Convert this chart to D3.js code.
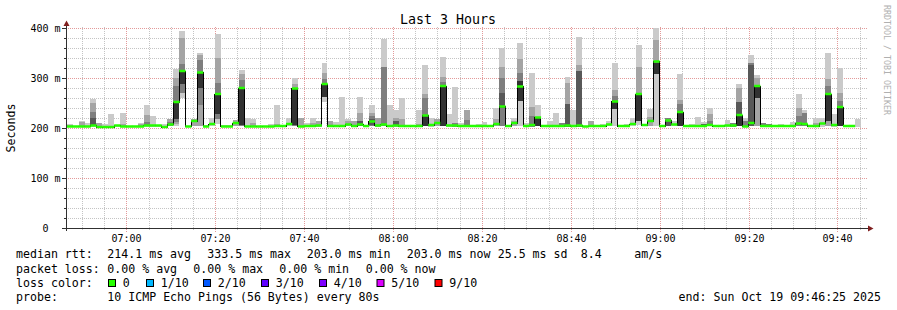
<!DOCTYPE html>
<html><head><meta charset="utf-8">
<script src="https://cdn.jsdelivr.net/npm/d3@7"></script>
<style>
html,body{margin:0;padding:0;background:#fff;}
svg{display:block;}
text{font-family:"DejaVu Sans Mono",monospace;white-space:pre;}
</style></head><body>
<svg id="chart" width="897" height="310"></svg>
<script>
// ---------------- data ----------------
const chartTitle = "Last 3 Hours";
const yAxisTitle = "Seconds";
const sideText = "RRDTOOL / TOBI OETIKER";
const startTime = Date.UTC(2025, 9, 19, 6, 46, 25);
const endTime   = Date.UTC(2025, 9, 19, 9, 46, 25);
const stepSeconds = 80;
const firstColumnOffset = 10; // seconds after startTime
const _ = null;

// median rtt per 80 s step (ms)
const medianRtt = [
  203,203,203,203,205,202,202,202,205,203,203,203,203,205,205,205,202,207,252,314,203,214,311,203,208,268,203,
  203,210,280,203,203,203,203,203,204,204,208,279,203,204,204,205,288,204,204,204,207,204,207,204,213,205,207,
  204,205,204,204,204,204,225,206,210,284,205,205,204,204,204,204,204,204,208,243,204,210,283,204,206,221,204,
  204,204,204,205,204,205,203,204,204,204,207,253,204,204,208,268,206,214,333,204,215,207,232,204,204,204,204,
  206,204,204,205,205,226,203,210,284,204,204,204,204,204,204,209,208,204,204,209,268,206,242,204,204,_
];
// smoke: pairs of pings [low, high] (ms), outermost pair first
const smoke1 = [
  [203,208],[203,205],[203,215],[203,210],[203,258],[202,211],[202,208],[202,228],[203,206],[203,230],[203,205],_,[203,210],[203,246],[203,224],[203,207],[202,208],[204,218],[205,318],[260,395],[203,205],[204,218],[204,350],[203,206],[204,221],[208,388],[203,207],
  [203,207],[204,216],[204,316],[203,220],[203,218],[203,204],[203,204],[203,208],[203,246],[203,205],[204,220],[205,300],[203,220],[203,210],[203,220],[203,215],[253,330],[203,215],[203,212],[203,263],[204,218],[203,215],[204,263],[203,204],[204,246],[203,220],[204,378],
  [203,246],[203,236],[203,260],[203,205],[203,206],[203,236],[204,326],[203,220],[204,218],[204,343],[203,228],[203,283],[203,210],[203,236],[203,204],[203,208],[203,212],[203,206],[204,240],[204,360],[203,204],[204,220],[204,370],[203,210],[203,310],[204,246],[203,204],
  [203,214],[203,231],[203,210],[203,303],[203,236],[203,382],[203,205],[203,215],[203,206],[203,208],[204,214],[204,330],[203,204],[203,208],[204,220],[206,366],[204,206],[204,238],[204,400],[203,205],[204,221],[204,214],[204,308],[203,204],[203,208],[203,223],[203,212],
  [204,240],[203,204],[203,204],[203,216],[203,210],[204,288],[203,220],[204,346],[205,306],[203,210],[203,209],[203,204],[203,208],[203,204],[203,213],[204,268],[204,236],[203,206],[203,220],[203,220],[204,351],[203,228],[204,320],[203,204],[203,206],[203,218]
];
const smoke2 = [
  [203,207],_,[203,213],_,[204,250],[202,210],_,_,_,[203,208],_,_,[203,209],[204,227],_,_,_,[204,218],[208,301],[271,381],_,[204,218],[204,346],_,_,[218,341],_,
  _,[204,216],[205,309],_,[203,211],_,_,_,[203,208],_,_,[205,288],[203,220],_,[203,210],[203,215],[263,311],[203,215],_,_,[204,214],[203,215],[204,230],_,[204,230],[203,220],_,
  _,[203,221],[203,218],_,_,[203,208],[204,268],_,[204,218],[204,303],_,_,_,[203,236],_,_,_,_,[204,218],[204,323],_,[204,215],[255,339],_,[203,243],_,_,
  _,_,_,[203,290],_,[203,327],_,[203,215],_,_,_,[239,276],_,_,_,[215,323],_,[204,223],[308,376],_,_,_,[204,256],_,_,_,_,
  [204,228],_,_,_,_,[204,280],_,[204,331],[204,301],_,_,_,_,_,_,[204,240],_,_,[203,211],_,[204,298],_,[204,271],_,_,_
];
const smoke3 = [
  _,_,_,_,[205,232],_,_,_,_,_,_,_,_,[204,212],_,_,_,[205,212],[212,285],[271,329],_,_,[247,337],_,_,[218,291],_,
  _,_,[205,297],_,_,_,_,_,_,_,_,[205,281],_,_,_,_,[263,298],_,_,_,_,_,_,_,[205,224],_,[204,323],
  _,_,_,_,_,_,[204,261],_,_,[204,293],_,[203,210],_,[203,216],_,_,_,_,_,[204,300],_,_,[255,311],_,[203,225],_,_,
  _,_,[203,210],_,_,_,_,_,_,_,_,[239,265],_,_,_,[215,270],_,_,[308,333],_,[204,221],_,[204,248],_,_,_,_,
  [204,215],_,_,_,[203,210],_,[203,215],[205,331],_,[203,210],[203,209],_,_,_,_,[204,224],[204,231],_,_,_,[215,285],_,[204,255],_,_,_
];
const smoke4 = [
  _,_,_,_,[205,220],_,_,_,_,_,_,_,_,_,_,_,_,_,_,_,_,_,_,_,_,_,_,
  _,_,_,_,_,_,_,_,_,_,_,_,_,_,_,_,_,_,_,_,_,_,[205,214],_,[206,218],_,_,
  _,[204,215],_,_,_,_,_,_,_,_,_,_,_,_,_,_,_,_,_,[240,271],_,_,_,_,_,_,_,
  _,_,_,[203,248],_,[203,315],_,_,_,_,_,_,_,_,_,_,_,_,_,_,[204,215],_,_,_,_,_,[203,208],
  _,_,_,_,_,[228,253],_,[205,326],_,_,_,_,_,_,_,_,_,_,_,_,_,_,_,_,_,_
];
const smoke5 = [
  _,_,_,_,_,_,_,_,_,_,_,_,_,_,_,_,_,_,[218,252],[289,317],_,_,[281,313],_,_,[229,269],_,
  _,_,[206,281],_,_,_,_,_,_,_,_,[206,279],_,_,_,_,[263,289],_,_,_,_,_,_,_,_,_,_,
  _,_,_,_,_,_,[205,225],_,_,[205,284],_,_,_,_,_,_,_,_,_,_,_,_,[255,295],_,_,[205,221],_,
  _,_,_,_,_,_,_,_,_,_,_,[239,255],_,_,_,[215,269],_,_,[308,331],_,_,_,[204,233],_,_,_,_,
  _,_,_,_,_,[204,228],_,_,[261,285],_,_,_,_,_,_,_,_,_,_,_,[215,269],_,[204,245],_,_,_
];
const smokeColors = ["#cacaca", "#a4a4a4", "#7e7e7e", "#585858", "#323232"];

const yTickValues = [0, 100, 200, 300, 400];
const yTickLabels = ["0", "100 m", "200 m", "300 m", "400 m"];
const xTickLabels = ["07:00","07:20","07:40","08:00","08:20","08:40","09:00","09:20","09:40"];

const legendRows = [
  ["median rtt:", "214.1 ms avg", "333.5 ms max", "203.0 ms min", "203.0 ms now", "25.5 ms sd", "8.4", "am/s"],
  ["packet loss:", "0.00 % avg", "0.00 % max", "0.00 % min", "0.00 % now"],
  ["loss color:"],
  ["probe:", "10 ICMP Echo Pings (56 Bytes) every 80s"]
];
const lossLabels = ["0", "1/10", "2/10", "3/10", "4/10", "5/10", "9/10"];
const lossColors = ["#26ff00", "#00b8ff", "#0059ff", "#5e00ff", "#7e00ff", "#dd00ff", "#ff0000"];
const endLabel = "end: Sun Oct 19 09:46:25 2025";

// ---------------- layout ----------------
const svg = d3.select("#chart");
svg.append("rect").attr("width", 897).attr("height", 310).attr("fill", "#fff");

const x = d3.scaleUtc().domain([startTime, endTime]).range([66, 866]);
const y = d3.scaleLinear().domain([0, 400]).range([228, 28]);

const colStart = i => startTime + (firstColumnOffset + i * stepSeconds) * 1000;
const colEnd = i => colStart(i + 1);

// grid
const grid = svg.append("g");
const minorY = d3.range(20, 401, 20).filter(v => v % 100 !== 0);
const majorY = yTickValues.filter(v => v > 0);
const minorX = d3.utcMinute.every(5).range(new Date(startTime), new Date(endTime)).filter(d => d.getUTCMinutes() % 20 !== 0);
const majorX = xTickLabels.map(s => Date.UTC(2025, 9, 19, +s.slice(0, 2), +s.slice(3, 5)));

const minorColor = "#c4c4c4", majorColor = "#e39a9a";
grid.selectAll(".hmin").data(minorY).join("line")
  .attr("x1", 64).attr("x2", 868).attr("y1", d => y(d) + 0.5).attr("y2", d => y(d) + 0.5)
  .attr("stroke", minorColor).attr("stroke-dasharray", "1,1");
grid.selectAll(".vmin").data(minorX).join("line")
  .attr("x1", d => Math.round(x(d)) + 0.5).attr("x2", d => Math.round(x(d)) + 0.5)
  .attr("y1", 230).attr("y2", 26)
  .attr("stroke", minorColor).attr("stroke-dasharray", "1,1");
grid.selectAll(".hmaj").data(majorY).join("line")
  .attr("x1", 62).attr("x2", 868).attr("y1", d => y(d) + 0.5).attr("y2", d => y(d) + 0.5)
  .attr("stroke", majorColor).attr("stroke-dasharray", "1,1");
grid.selectAll(".vmaj").data(majorX).join("line")
  .attr("x1", d => Math.round(x(d)) + 0.5).attr("x2", d => Math.round(x(d)) + 0.5)
  .attr("y1", 232).attr("y2", 26)
  .attr("stroke", majorColor).attr("stroke-dasharray", "1,1");

// smoke
const smokeSets = [smoke1, smoke2, smoke3, smoke4, smoke5];
smokeSets.forEach((set, k) => {
  const rows = set.map((v, i) => v ? { i, lo: v[0], hi: v[1] } : null).filter(Boolean);
  svg.append("g").attr("shape-rendering", "crispEdges")
    .selectAll("rect").data(rows).join("rect")
    .attr("x", d => x(colStart(d.i)))
    .attr("width", d => x(colEnd(d.i)) - x(colStart(d.i)))
    .attr("y", d => y(d.hi))
    .attr("height", d => Math.max(1, y(d.lo) - y(d.hi)))
    .attr("fill", smokeColors[k]);
});

// median step line (black) and loss coloured median band
const medPts = [];
let lastIdx = -1;
medianRtt.forEach((v, i) => { if (v != null) { medPts.push([x(colStart(i)), y(v)]); lastIdx = i; } });
medPts.push([x(colEnd(lastIdx)), y(medianRtt[lastIdx])]);
svg.append("path")
  .attr("d", d3.line().curve(d3.curveStepAfter)(medPts))
  .attr("fill", "none").attr("stroke", "#000").attr("stroke-width", 1)
  .attr("shape-rendering", "crispEdges");
svg.append("g").selectAll("rect")
  .data(medianRtt.map((v, i) => ({ v, i })).filter(d => d.v != null))
  .join("rect")
  .attr("x", d => x(colStart(d.i)))
  .attr("width", d => x(colEnd(d.i)) - x(colStart(d.i)) + 0.3)
  .attr("y", d => y(d.v) - 1.25).attr("height", 2.5)
  .attr("fill", lossColors[0]);

// axes
const axisColor = "#303030";
const ax = svg.append("g");
ax.append("line").attr("x1", 62).attr("x2", 869).attr("y1", 228.5).attr("y2", 228.5).attr("stroke", axisColor);
ax.append("line").attr("x1", 66.5).attr("x2", 66.5).attr("y1", 231).attr("y2", 25).attr("stroke", axisColor);
ax.append("path").attr("d", "M868,225.5L873.5,228.5L868,231.5Z").attr("fill", "#7f1f1f");
ax.append("path").attr("d", "M63.5,26L66.5,20.5L69.5,26Z").attr("fill", "#7f1f1f");
ax.selectAll(".ytmin").data(minorY).join("line")
  .attr("x1", 64).attr("x2", 66).attr("y1", d => y(d) + 0.5).attr("y2", d => y(d) + 0.5).attr("stroke", axisColor);
ax.selectAll(".ytmaj").data(majorY).join("line")
  .attr("x1", 62).attr("x2", 66).attr("y1", d => y(d) + 0.5).attr("y2", d => y(d) + 0.5).attr("stroke", axisColor);

// tick labels
svg.append("g").selectAll("text").data(yTickValues).join("text")
  .attr("x", (d, i) => i === 0 ? 48.5 : 60.5)
  .attr("y", d => y(d) + 3.8)
  .attr("text-anchor", "end").attr("font-size", "10px").attr("fill", "#000")
  .text((d, i) => yTickLabels[i]);
svg.append("g").selectAll("text").data(majorX).join("text")
  .attr("x", d => Math.round(x(d)) + 0.5)
  .attr("y", 241.5)
  .attr("text-anchor", "middle").attr("font-size", "10px").attr("fill", "#000")
  .text((d, i) => xTickLabels[i]);

// titles
svg.append("text").attr("x", 448).attr("y", 24).attr("text-anchor", "middle")
  .attr("font-size", "13.3px").attr("fill", "#000").text(chartTitle);
svg.append("text").attr("transform", "translate(15,128) rotate(-90)").attr("text-anchor", "middle")
  .attr("font-size", "11.6px").attr("fill", "#000").text(yAxisTitle);
svg.append("text").attr("transform", "translate(884,5) rotate(90)").attr("text-anchor", "start")
  .attr("font-size", "8.3px").attr("fill", "#b0b0b0").text(sideText);

// legend
const legendX = [
  [16, 107.3, 207.3, 306.7, 406.7, 497.7, 580.7, 634.3],
  [16, 107.3, 193.3, 279.3, 365.7],
  [16],
  [16, 107.3]
];
const legendY = [258.3, 272.5, 286.7, 300.8];
const lg = svg.append("g").attr("font-size", "11.6px").attr("fill", "#000");
legendRows.forEach((row, r) => {
  row.forEach((s, c) => {
    lg.append("text").attr("x", legendX[r][c]).attr("y", legendY[r]).text(s);
  });
});
const swatchX = [108.5, 146.5, 203.5, 261.5, 319.5, 377, 435];
lossLabels.forEach((s, i) => {
  lg.append("rect").attr("x", swatchX[i]).attr("y", 279.5).attr("width", 7).attr("height", 7)
    .attr("fill", lossColors[i]).attr("stroke", "#000").attr("stroke-width", 1);
  lg.append("text").attr("x", swatchX[i] + 14.3).attr("y", legendY[2]).text(s);
});
lg.append("text").attr("x", 881).attr("y", legendY[3]).attr("text-anchor", "end").text(endLabel);
</script>
</body></html>
